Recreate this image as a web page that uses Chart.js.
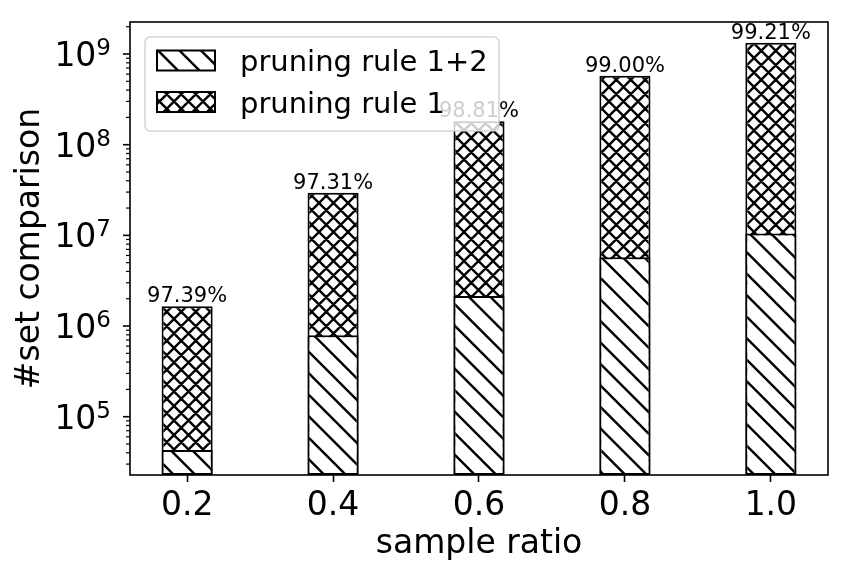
<!DOCTYPE html>
<html>
<head>
<meta charset="utf-8">
<script src="https://cdn.jsdelivr.net/npm/chart.js@4.4.0/dist/chart.umd.min.js"></script>
<style>
    body { margin: 0; background: #fff; }
    canvas { display: block; }
</style>
</head>
<body>
<canvas id="chart" width="851" height="578"></canvas>
<script>
// sample ratios on the x axis
const ratios = [0.2, 0.4, 0.6, 0.8, 1.0];
// number of set comparisons (log scale)
const rule1Counts = [1.65e6, 2.95e7, 1.81e8, 5.75e8, 1.33e9];
const rule12Counts = [4.3e4, 7.9e5, 2.15e6, 5.75e6, 1.05e7];
// pruned percentage shown above each bar
const prunedLabels = ['97.39%', '97.31%', '98.81%', '99.00%', '99.21%'];
const yMajorTicks = [1e5, 1e6, 1e7, 1e8, 1e9];
const seriesNames = ['pruning rule 1+2', 'pruning rule 1'];

const FONT = 'DejaVu Sans';
Chart.defaults.font.family = FONT;
Chart.defaults.color = '#000';

// hatch pattern like matplotlib's '\' and 'xx'
function makeHatch(dirs, period) {
    const size = period * 2;
    const tile = document.createElement('canvas');
    tile.width = size;
    tile.height = size;
    const c = tile.getContext('2d');
    c.fillStyle = '#fff';
    c.fillRect(0, 0, size, size);
    c.strokeStyle = '#000';
    c.lineWidth = 2.4;
    c.beginPath();
    for (let k = -2; k <= 4; k++) {
        const off = k * period;
        if (dirs.includes('\\')) {
            c.moveTo(-3, off - 3);
            c.lineTo(size + 3, off + size + 3);
        }
        if (dirs.includes('/')) {
            c.moveTo(-3, off + 3);
            c.lineTo(size + 3, off - size - 3);
        }
    }
    c.stroke();
    return c.createPattern(tile, 'repeat');
}

const hatchDiag = makeHatch('\\', 21.5);
const hatchCross = makeHatch('\\/', 14.5);
const hatches = [hatchDiag, hatchCross];

function roundRect(ctx, x, y, w, h, r) {
    ctx.beginPath();
    ctx.moveTo(x + r, y);
    ctx.lineTo(x + w - r, y);
    ctx.arcTo(x + w, y, x + w, y + r, r);
    ctx.lineTo(x + w, y + h - r);
    ctx.arcTo(x + w, y + h, x + w - r, y + h, r);
    ctx.lineTo(x + r, y + h);
    ctx.arcTo(x, y + h, x, y + h - r, r);
    ctx.lineTo(x, y + r);
    ctx.arcTo(x, y, x + r, y, r);
    ctx.closePath();
}

const overlay = {
    id: 'overlay',
    afterDraw(chart) {
        const { ctx, chartArea: a, scales: { x, y } } = chart;
        ctx.save();

        // axes frame
        ctx.strokeStyle = '#000';
        ctx.lineWidth = 1.6;
        ctx.strokeRect(a.left, a.top, a.right - a.left, a.bottom - a.top);

        // y ticks, major and minor
        y.ticks.forEach(t => {
            const py = y.getPixelForValue(t.value);
            ctx.beginPath();
            ctx.lineWidth = t.major ? 1.6 : 1.2;
            ctx.moveTo(a.left - (t.major ? 7 : 4), py);
            ctx.lineTo(a.left, py);
            ctx.stroke();
        });

        // y tick labels as 10^n
        ctx.fillStyle = '#000';
        ctx.textBaseline = 'alphabetic';
        ctx.textAlign = 'right';
        yMajorTicks.forEach(v => {
            const py = y.getPixelForValue(v);
            const exp = String(Math.round(Math.log10(v)));
            const right = a.left - 19;
            ctx.font = '23px ' + FONT;
            const ew = ctx.measureText(exp).width;
            ctx.fillText(exp, right, py + 1);
            ctx.font = '33px ' + FONT;
            ctx.fillText('10', right - ew, py + 12);
        });

        // percentage labels above the bars
        ctx.textAlign = 'center';
        ctx.font = '21px ' + FONT;
        ratios.forEach((r, i) => {
            const px = x.getPixelForValue(r);
            const py = y.getPixelForValue(rule1Counts[i]);
            ctx.fillText(prunedLabels[i], px, py - 4);
        });

        // legend
        const lx = a.left + 15, ly = a.top + 15, lw = 354, lh = 94;
        roundRect(ctx, lx, ly, lw, lh, 5);
        ctx.fillStyle = 'rgba(255,255,255,0.8)';
        ctx.fill();
        ctx.strokeStyle = 'rgba(204,204,204,0.8)';
        ctx.lineWidth = 1.6;
        ctx.stroke();
        ctx.textAlign = 'left';
        ctx.font = '29px ' + FONT;
        seriesNames.forEach((name, i) => {
            const cy = ly + 23.5 + i * 41.5;
            ctx.fillStyle = hatches[i];
            ctx.fillRect(lx + 12, cy - 10, 58, 20);
            ctx.strokeStyle = '#000';
            ctx.lineWidth = 2;
            ctx.strokeRect(lx + 12, cy - 10, 58, 20);
            ctx.fillStyle = '#000';
            ctx.fillText(name, lx + 95, cy + 10.5);
        });

        ctx.restore();
    }
};

new Chart(document.getElementById('chart'), {
    type: 'bar',
    data: {
        datasets: [
            {
                label: seriesNames[0],
                data: ratios.map((r, i) => ({ x: r, y: rule12Counts[i] })),
                backgroundColor: hatchDiag,
                borderColor: '#000',
                borderWidth: 2,
                borderSkipped: false
            },
            {
                label: seriesNames[1],
                data: ratios.map((r, i) => ({ x: r, y: rule1Counts[i] })),
                backgroundColor: hatchCross,
                borderColor: '#000',
                borderWidth: 2,
                borderSkipped: false
            }
        ]
    },
    options: {
        responsive: false,
        animation: false,
        datasets: { bar: { grouped: false, categoryPercentage: 1, barPercentage: 0.35 } },
        layout: { padding: { top: 22, right: 23, left: 0, bottom: 0 } },
        plugins: { legend: { display: false }, tooltip: { enabled: false } },
        scales: {
            x: {
                type: 'linear',
                min: 0.1217,
                max: 1.0783,
                offset: false,
                afterBuildTicks: s => { s.ticks = ratios.map(v => ({ value: v })); },
                afterFit: s => { s.height = 103; },
                ticks: {
                    callback: v => Number(v).toFixed(1),
                    font: { size: 33 },
                    color: '#000',
                    padding: 5,
                    maxRotation: 0,
                    autoSkip: false
                },
                grid: { display: true, drawOnChartArea: false, drawTicks: true, tickLength: 7, tickWidth: 1.6, tickColor: '#000', offset: false },
                border: { display: false },
                title: { display: true, text: 'sample ratio', font: { size: 33 }, color: '#000', padding: { top: 0, bottom: 14 } }
            },
            y: {
                type: 'logarithmic',
                min: 2.275e4,
                max: 2.255e9,
                afterBuildTicks: s => {
                    const ticks = [];
                    for (let e = 4; e <= 9; e++) {
                        for (let m = 1; m <= 9; m++) {
                            const v = m * Math.pow(10, e);
                            if (v >= s.min && v <= s.max) ticks.push({ value: v, major: m === 1 });
                        }
                    }
                    s.ticks = ticks;
                },
                afterFit: s => { s.width = 130; },
                ticks: { display: false },
                grid: { display: false },
                border: { display: false },
                title: { display: true, text: '#set comparison', font: { size: 33 }, color: '#000', padding: { top: 11, bottom: 0 } }
            }
        }
    },
    plugins: [overlay]
});
</script>
</body>
</html>
